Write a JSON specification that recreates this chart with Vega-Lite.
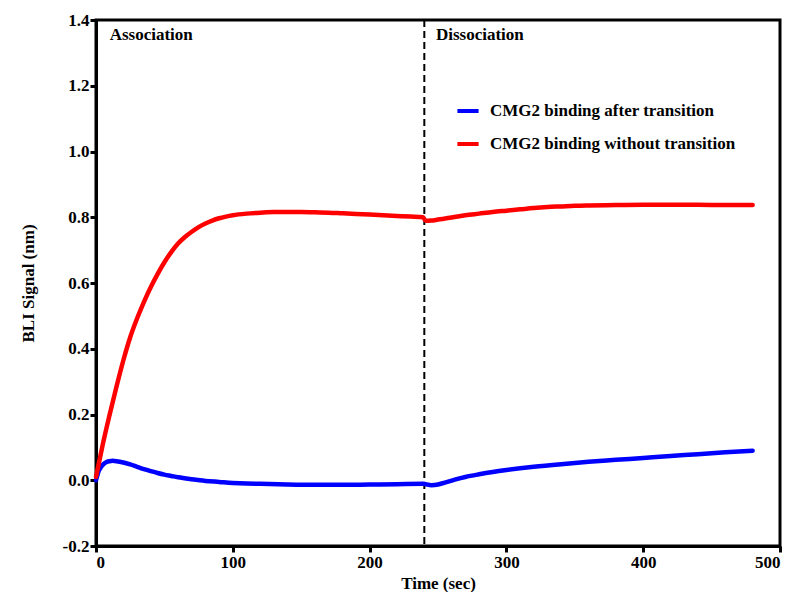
{
  "$schema": "https://vega.github.io/schema/vega-lite/v6.json",
  "autosize": {"type": "none"},
  "width": 684,
  "height": 526,
  "padding": {"left": 96, "top": 20, "right": 16, "bottom": 46},
  "background": "white",
  "config": {
    "view": {"stroke": "black", "strokeWidth": 3},
    "font": "Liberation Serif",
    "axis": {
      "domainColor": "black", "domainWidth": 3, "tickColor": "black", "tickWidth": 3, "tickSize": 6,
      "labelFont": "Liberation Serif", "labelFontWeight": "bold", "labelFontSize": 17, "labelColor": "black",
      "titleFont": "Liberation Serif", "titleFontWeight": "bold", "titleFontSize": 17, "titleColor": "black",
      "grid": false
    }
  },
  "datasets": {
    "curves": [
      {"t": 0, "v": 0.0, "s": "CMG2 binding after transition"},
      {"t": 1, "v": 0.015, "s": "CMG2 binding after transition"},
      {"t": 2, "v": 0.028, "s": "CMG2 binding after transition"},
      {"t": 4, "v": 0.042, "s": "CMG2 binding after transition"},
      {"t": 6, "v": 0.051, "s": "CMG2 binding after transition"},
      {"t": 8, "v": 0.056, "s": "CMG2 binding after transition"},
      {"t": 10, "v": 0.058, "s": "CMG2 binding after transition"},
      {"t": 12, "v": 0.059, "s": "CMG2 binding after transition"},
      {"t": 15, "v": 0.058, "s": "CMG2 binding after transition"},
      {"t": 20, "v": 0.054, "s": "CMG2 binding after transition"},
      {"t": 25, "v": 0.048, "s": "CMG2 binding after transition"},
      {"t": 30, "v": 0.041, "s": "CMG2 binding after transition"},
      {"t": 35, "v": 0.034, "s": "CMG2 binding after transition"},
      {"t": 40, "v": 0.028, "s": "CMG2 binding after transition"},
      {"t": 45, "v": 0.022, "s": "CMG2 binding after transition"},
      {"t": 50, "v": 0.017, "s": "CMG2 binding after transition"},
      {"t": 55, "v": 0.013, "s": "CMG2 binding after transition"},
      {"t": 60, "v": 0.009, "s": "CMG2 binding after transition"},
      {"t": 70, "v": 0.003, "s": "CMG2 binding after transition"},
      {"t": 80, "v": -0.002, "s": "CMG2 binding after transition"},
      {"t": 90, "v": -0.005, "s": "CMG2 binding after transition"},
      {"t": 100, "v": -0.008, "s": "CMG2 binding after transition"},
      {"t": 110, "v": -0.010, "s": "CMG2 binding after transition"},
      {"t": 120, "v": -0.011, "s": "CMG2 binding after transition"},
      {"t": 140, "v": -0.013, "s": "CMG2 binding after transition"},
      {"t": 160, "v": -0.014, "s": "CMG2 binding after transition"},
      {"t": 180, "v": -0.014, "s": "CMG2 binding after transition"},
      {"t": 200, "v": -0.013, "s": "CMG2 binding after transition"},
      {"t": 220, "v": -0.012, "s": "CMG2 binding after transition"},
      {"t": 239, "v": -0.011, "s": "CMG2 binding after transition"},
      {"t": 241, "v": -0.012, "s": "CMG2 binding after transition"},
      {"t": 245, "v": -0.015, "s": "CMG2 binding after transition"},
      {"t": 250, "v": -0.013, "s": "CMG2 binding after transition"},
      {"t": 255, "v": -0.007, "s": "CMG2 binding after transition"},
      {"t": 260, "v": -0.001, "s": "CMG2 binding after transition"},
      {"t": 265, "v": 0.005, "s": "CMG2 binding after transition"},
      {"t": 270, "v": 0.010, "s": "CMG2 binding after transition"},
      {"t": 280, "v": 0.018, "s": "CMG2 binding after transition"},
      {"t": 290, "v": 0.025, "s": "CMG2 binding after transition"},
      {"t": 300, "v": 0.031, "s": "CMG2 binding after transition"},
      {"t": 320, "v": 0.041, "s": "CMG2 binding after transition"},
      {"t": 340, "v": 0.049, "s": "CMG2 binding after transition"},
      {"t": 360, "v": 0.056, "s": "CMG2 binding after transition"},
      {"t": 380, "v": 0.062, "s": "CMG2 binding after transition"},
      {"t": 400, "v": 0.068, "s": "CMG2 binding after transition"},
      {"t": 420, "v": 0.074, "s": "CMG2 binding after transition"},
      {"t": 440, "v": 0.079, "s": "CMG2 binding after transition"},
      {"t": 460, "v": 0.085, "s": "CMG2 binding after transition"},
      {"t": 480, "v": 0.090, "s": "CMG2 binding after transition"},
      {"t": 0, "v": 0.01, "s": "CMG2 binding without transition"},
      {"t": 2, "v": 0.05, "s": "CMG2 binding without transition"},
      {"t": 5, "v": 0.11, "s": "CMG2 binding without transition"},
      {"t": 10, "v": 0.20, "s": "CMG2 binding without transition"},
      {"t": 15, "v": 0.285, "s": "CMG2 binding without transition"},
      {"t": 20, "v": 0.365, "s": "CMG2 binding without transition"},
      {"t": 25, "v": 0.435, "s": "CMG2 binding without transition"},
      {"t": 30, "v": 0.492, "s": "CMG2 binding without transition"},
      {"t": 35, "v": 0.542, "s": "CMG2 binding without transition"},
      {"t": 40, "v": 0.587, "s": "CMG2 binding without transition"},
      {"t": 45, "v": 0.627, "s": "CMG2 binding without transition"},
      {"t": 50, "v": 0.663, "s": "CMG2 binding without transition"},
      {"t": 55, "v": 0.694, "s": "CMG2 binding without transition"},
      {"t": 60, "v": 0.72, "s": "CMG2 binding without transition"},
      {"t": 65, "v": 0.74, "s": "CMG2 binding without transition"},
      {"t": 70, "v": 0.756, "s": "CMG2 binding without transition"},
      {"t": 75, "v": 0.77, "s": "CMG2 binding without transition"},
      {"t": 80, "v": 0.781, "s": "CMG2 binding without transition"},
      {"t": 85, "v": 0.79, "s": "CMG2 binding without transition"},
      {"t": 90, "v": 0.797, "s": "CMG2 binding without transition"},
      {"t": 95, "v": 0.802, "s": "CMG2 binding without transition"},
      {"t": 100, "v": 0.806, "s": "CMG2 binding without transition"},
      {"t": 110, "v": 0.811, "s": "CMG2 binding without transition"},
      {"t": 120, "v": 0.814, "s": "CMG2 binding without transition"},
      {"t": 130, "v": 0.816, "s": "CMG2 binding without transition"},
      {"t": 140, "v": 0.816, "s": "CMG2 binding without transition"},
      {"t": 150, "v": 0.816, "s": "CMG2 binding without transition"},
      {"t": 160, "v": 0.815, "s": "CMG2 binding without transition"},
      {"t": 170, "v": 0.814, "s": "CMG2 binding without transition"},
      {"t": 180, "v": 0.812, "s": "CMG2 binding without transition"},
      {"t": 190, "v": 0.810, "s": "CMG2 binding without transition"},
      {"t": 200, "v": 0.808, "s": "CMG2 binding without transition"},
      {"t": 210, "v": 0.806, "s": "CMG2 binding without transition"},
      {"t": 220, "v": 0.804, "s": "CMG2 binding without transition"},
      {"t": 230, "v": 0.802, "s": "CMG2 binding without transition"},
      {"t": 239, "v": 0.800, "s": "CMG2 binding without transition"},
      {"t": 241, "v": 0.789, "s": "CMG2 binding without transition"},
      {"t": 245, "v": 0.790, "s": "CMG2 binding without transition"},
      {"t": 250, "v": 0.793, "s": "CMG2 binding without transition"},
      {"t": 260, "v": 0.799, "s": "CMG2 binding without transition"},
      {"t": 270, "v": 0.806, "s": "CMG2 binding without transition"},
      {"t": 280, "v": 0.811, "s": "CMG2 binding without transition"},
      {"t": 290, "v": 0.816, "s": "CMG2 binding without transition"},
      {"t": 300, "v": 0.820, "s": "CMG2 binding without transition"},
      {"t": 310, "v": 0.824, "s": "CMG2 binding without transition"},
      {"t": 320, "v": 0.828, "s": "CMG2 binding without transition"},
      {"t": 330, "v": 0.831, "s": "CMG2 binding without transition"},
      {"t": 340, "v": 0.833, "s": "CMG2 binding without transition"},
      {"t": 350, "v": 0.835, "s": "CMG2 binding without transition"},
      {"t": 360, "v": 0.836, "s": "CMG2 binding without transition"},
      {"t": 380, "v": 0.837, "s": "CMG2 binding without transition"},
      {"t": 400, "v": 0.838, "s": "CMG2 binding without transition"},
      {"t": 420, "v": 0.838, "s": "CMG2 binding without transition"},
      {"t": 440, "v": 0.838, "s": "CMG2 binding without transition"},
      {"t": 460, "v": 0.837, "s": "CMG2 binding without transition"},
      {"t": 480, "v": 0.837, "s": "CMG2 binding without transition"}
    ],
    "phase": [{"t": 240}],
    "labels": [
      {"t": 10, "v": 1.353, "label": "Association"},
      {"t": 248.5, "v": 1.353, "label": "Dissociation"}
    ]
  },
  "layer": [
    {
      "data": {"name": "phase"},
      "mark": {"type": "rule", "color": "black", "strokeWidth": 2, "strokeDash": [7, 4]},
      "encoding": {
        "x": {"field": "t", "type": "quantitative", "scale": {"domain": [0, 500]}}
      }
    },
    {
      "data": {"name": "curves"},
      "mark": {"type": "line", "strokeWidth": 4.5, "strokeCap": "round", "strokeJoin": "round", "interpolate": "monotone"},
      "encoding": {
        "x": {"field": "t", "type": "quantitative", "scale": {"domain": [0, 500], "nice": false},
              "axis": {"title": "Time (sec)", "values": [0, 100, 200, 300, 400, 500], "titlePadding": 5, "labelPadding": 2}},
        "y": {"field": "v", "type": "quantitative", "scale": {"domain": [-0.2, 1.4], "nice": false},
              "axis": {"title": "BLI Signal (nm)", "values": [-0.2, 0, 0.2, 0.4, 0.6, 0.8, 1.0, 1.2, 1.4], "format": ".1f",
                       "labelExpr": "replace(datum.label, '\u2212', '-')", "titlePadding": 25, "labelPadding": 1}},
        "color": {
          "field": "s", "type": "nominal",
          "scale": {"domain": ["CMG2 binding after transition", "CMG2 binding without transition"], "range": ["#0000ff", "#ff0000"]},
          "legend": {
            "title": null, "orient": "none", "legendX": 359, "legendY": 78,
            "symbolType": "stroke", "symbolStrokeWidth": 4, "symbolSize": 450,
            "labelFont": "Liberation Serif", "labelFontWeight": "bold", "labelFontSize": 17, "labelColor": "black",
            "labelLimit": 0, "rowPadding": 12, "labelOffset": 9, "padding": 0
          }
        },
        "order": {"field": "s", "type": "nominal"}
      }
    },
    {
      "data": {"name": "labels"},
      "mark": {"type": "text", "align": "left", "baseline": "middle", "font": "Liberation Serif", "fontWeight": "bold", "fontSize": 17, "color": "black"},
      "encoding": {
        "x": {"field": "t", "type": "quantitative"},
        "y": {"field": "v", "type": "quantitative"},
        "text": {"field": "label"}
      }
    }
  ]
}
